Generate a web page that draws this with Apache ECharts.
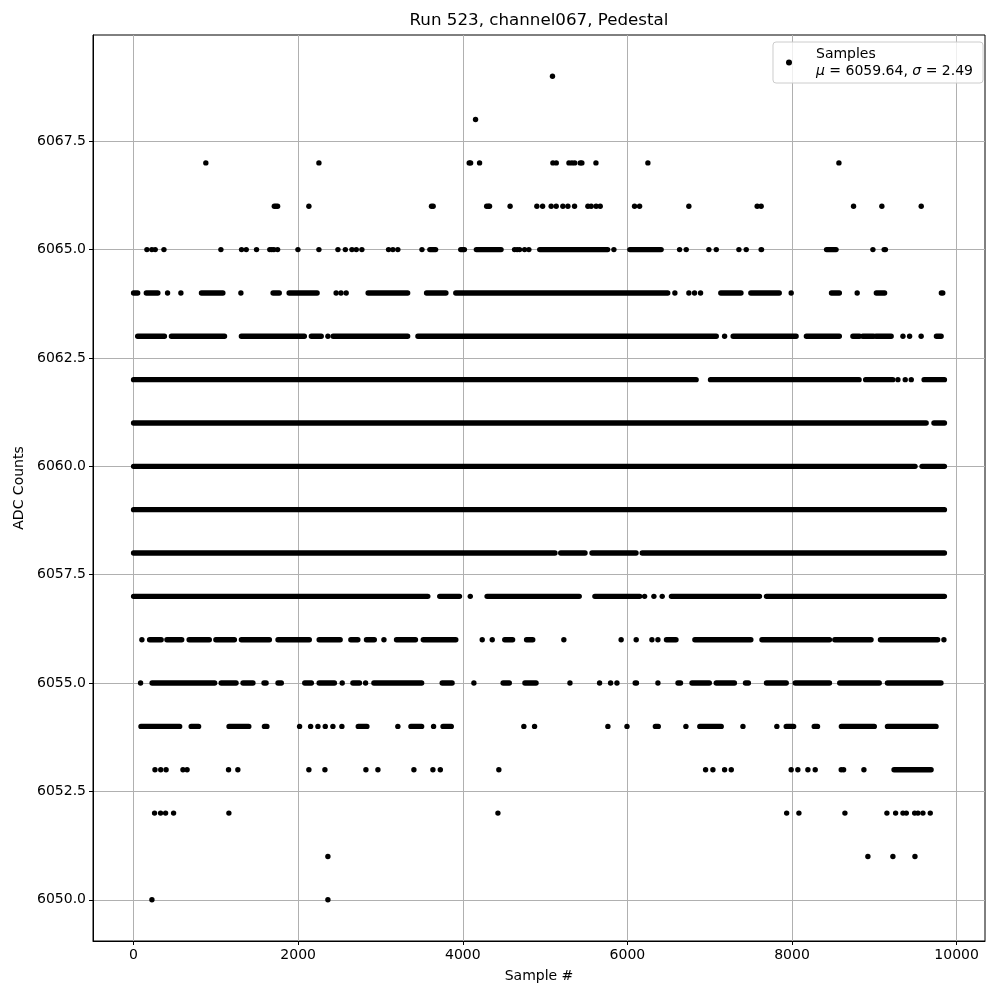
<!DOCTYPE html>
<html>
<head>
<meta charset="utf-8">
<script src="https://cdn.jsdelivr.net/npm/echarts@6/dist/echarts.min.js"></script>
<style>html,body{margin:0;padding:0;background:#fff}#c{width:1000px;height:1000px}</style>
</head>
<body>
<div id="c"></div>
<script>
// ---- data: per ADC level, numbers are single samples, [a,b] are stretches of samples packed so densely the dots merge ----
const row6050 = [223, 2361];
const row6051 = [2361, 8922, 9226, 9494];
const row6052 = [255, 328, 389, 486, 1158, 4427, 7935, 8084, 8643, 9153, 9259, 9348, 9389, 9490, 9530, 9591, 9680];
const row6053 = [260, 330, 395, 600, 650, 1154, 1267, 2130, 2325, 2823, 2969, 3406, 3637, 3727, 4438, 6950, 7039, 7181, 7262, 7990, 8071, 8193, 8282, 8598, 8627, 8874, [9240, 9690]];
const row6054 = [[90, 560], [700, 790], [1160, 1400], [1590, 1620], 2017, 2151, 2240, 2329, 2422, 2531, [2730, 2835], 3211, [3370, 3500], 3645, [3760, 3860], 4742, 4872, 5763, 5995, [6340, 6375], 6711, [6880, 7140], 7404, 7816, [7930, 8020], [8270, 8310], [8600, 9000], [9160, 9750]];
const row6055 = [85, [225, 985], [1065, 1245], [1330, 1450], [1585, 1610], [1755, 1795], [2080, 2160], [2255, 2440], 2535, [2665, 2745], 2819, [2920, 3500], [3750, 3870], 4135, [4490, 4565], [4755, 4890], 5302, 5662, 5796, 5873, [6095, 6110], 6371, [6615, 6645], [6785, 6995], [7080, 7300], [7435, 7470], [7690, 7930], [8040, 8455], [8580, 9060], [9160, 9810]];
const row6056 = [101, [195, 335], [405, 585], [675, 920], [1000, 1225], [1310, 1650], [1755, 2135], [2255, 2510], [2640, 2725], [2830, 2925], 3042, [3195, 3425], [3520, 3915], 4236, 4358, [4510, 4605], [4775, 4850], 5228, 5924, 6107, 6298, 6371, [6475, 6590], [6820, 7500], [7635, 8455], [8520, 8960], [9075, 9770], 9846];
const row6057 = [[0, 3575], [3720, 3960], 4091, [4295, 5415], [5605, 6150], 6209, 6322, 6423, [6535, 7605], [7690, 9852]];
const row6058 = [[0, 5120], [5190, 5485], [5570, 6105], [6180, 9852]];
const row6059 = [[0, 9852]];
const row6060 = [[0, 9495], [9580, 9852]];
const row6061 = [[0, 9630], [9725, 9852]];
const row6062 = [[0, 6835], [7010, 8815], [8895, 9225], 9287, 9376, 9449, [9605, 9852]];
const row6063 = [[50, 375], [460, 1105], [1310, 2075], [2160, 2280], 2361, [2425, 3330], [3455, 7080], 7181, [7285, 8050], [8175, 8575], [8740, 8820], [8860, 8990], [9020, 9205], 9348, 9429, 9569, [9755, 9812]];
const row6064 = [[0, 50], [155, 295], 413, 575, [825, 1085], 1304, [1695, 1770], [1890, 2230], 2461, 2520, 2583, [2850, 3330], [3560, 3795], [3915, 6490], 6577, 6747, 6816, 6889, [7135, 7380], [7500, 7845], 7990, [8480, 8575], 8792, [9025, 9125], [9815, 9832]];
const row6065 = [162, 222, 263, 369, 1061, 1312, 1369, 1494, 1655, 1680, 1705, 1750, 1997, 2252, 2483, 2573, 2653, 2706, 2774, 3098, 3151, 3211, 3504, [3600, 3670], [3975, 4020], [4165, 4465], 4629, 4660, 4690, 4751, 4803, [4935, 5760], 5836, [6030, 6410], 6634, 6715, 6990, 7080, 7355, 7444, [7625, 7630], [8420, 8535], 8983, [9120, 9135]];
const row6066 = [1710, 1730, 1750, 2130, 3620, 3640, 4290, 4310, 4325, 4575, 4900, 4970, 5074, 5135, 5216, 5277, 5358, 5520, 5560, 5620, 5670, 6087, 6148, 6747, 7577, 7625, 8748, 9092, 9570];
const row6067 = [878, 2252, 4078, 4095, 4204, 5095, 5136, 5290, 5326, 5360, 5427, 5447, 5618, 6249, 8570];
const row6068 = [4155];
const row6069 = [5090];

const levels = [6050, 6051, 6052, 6053, 6054, 6055, 6056, 6057, 6058, 6059, 6060, 6061, 6062, 6063, 6064, 6065, 6066, 6067, 6068, 6069];
const rows = [row6050, row6051, row6052, row6053, row6054, row6055, row6056, row6057, row6058, row6059, row6060, row6061, row6062, row6063, row6064, row6065, row6066, row6067, row6068, row6069];

const xTicks = [0, 2000, 4000, 6000, 8000, 10000];
const yTicks = [6050, 6052.5, 6055, 6057.5, 6060, 6062.5, 6065, 6067.5];

const titleText = 'Run 523, channel067, Pedestal';
const seriesName = 'Samples';
const meanText = '6059.64';
const sigmaText = '2.49';

// ---- build series data ----
const points = [];
const runs = [];
levels.forEach((lv, i) => {
  rows[i].forEach(item => {
    if (Array.isArray(item)) runs.push([item[0], item[1], lv]);
    else points.push([item, lv]);
  });
});

const FONT = 'DejaVu Sans';
const DOT = 5.4;

const chart = echarts.init(document.getElementById('c'), null, {renderer: 'canvas'});
chart.setOption({
  animation: false,
  backgroundColor: '#fff',
  grid: {left: 93, right: 15, top: 35, bottom: 59, show: true, borderColor: '#000', borderWidth: 1, backgroundColor: 'transparent'},
  graphic: [{
    type: 'text', x: 539, y: 21,
    style: {text: titleText, font: '16.7px "DejaVu Sans"', fill: '#000', textAlign: 'center', textVerticalAlign: 'middle'}
  }],
  legend: {
    data: [seriesName],
    right: 17, top: 42,
    orient: 'vertical',
    padding: [5, 10, 5, 13],
    backgroundColor: 'rgba(255,255,255,0.8)',
    borderColor: '#cccccc', borderWidth: 1, borderRadius: 3,
    icon: 'circle', itemWidth: 24, itemHeight: 6,
    itemStyle: {color: '#000'},
    formatter: () => '{n|' + seriesName + '}\n{m|μ}{p| = ' + meanText + ', }{i|σ}{p| = ' + sigmaText + '}',
    textStyle: {
      color: '#000', fontFamily: FONT, fontSize: 14,
      rich: {
        n: {fontFamily: FONT, fontSize: 14, color: '#000', lineHeight: 17, padding: [0, 0, 0, 10]},
        m: {fontFamily: FONT, fontSize: 14, color: '#000', fontStyle: 'italic', lineHeight: 17, padding: [0, 0, 0, 10]},
        i: {fontFamily: FONT, fontSize: 14, color: '#000', fontStyle: 'italic', lineHeight: 17},
        p: {fontFamily: FONT, fontSize: 14, color: '#000', lineHeight: 17}
      }
    }
  },
  xAxis: {
    type: 'value', min: -493, max: 10345,
    name: 'Sample #', nameLocation: 'middle', nameGap: 28,
    nameTextStyle: {fontFamily: FONT, fontSize: 14, color: '#000'},
    axisLine: {show: true, onZero: false, lineStyle: {color: '#000', width: 1}},
    axisTick: {show: true, length: 4, customValues: xTicks, lineStyle: {color: '#000', width: 1}},
    axisLabel: {customValues: xTicks, margin: 7, fontFamily: FONT, fontSize: 14, color: '#000', formatter: v => String(v)},
    splitLine: {show: true, lineStyle: {color: '#b0b0b0', width: 1}}
  },
  yAxis: {
    type: 'value', min: 6049.05, max: 6069.95,
    name: 'ADC Counts', nameLocation: 'middle', nameGap: 64,
    nameTextStyle: {fontFamily: FONT, fontSize: 14, color: '#000'},
    axisLine: {show: true, onZero: false, lineStyle: {color: '#000', width: 1}},
    axisTick: {show: true, length: 4, customValues: yTicks, lineStyle: {color: '#000', width: 1}},
    axisLabel: {customValues: yTicks, margin: 7, fontFamily: FONT, fontSize: 14, color: '#000', formatter: v => v.toFixed(1)},
    splitLine: {show: true, lineStyle: {color: '#b0b0b0', width: 1}}
  },
  series: [
    {
      name: seriesName, type: 'scatter', data: points,
      symbol: 'circle', symbolSize: DOT,
      itemStyle: {color: '#000', opacity: 1},
      z: 3
    },
    {
      name: 'runs', type: 'custom', data: runs,
      encode: {x: [0, 1], y: 2},
      z: 3,
      renderItem: (params, api) => {
        const y = api.value(2);
        const a = api.coord([api.value(0), y]);
        const b = api.coord([api.value(1), y]);
        const r = DOT / 2;
        return {
          type: 'rect',
          shape: {x: a[0] - r, y: a[1] - r, width: (b[0] - a[0]) + 2 * r, height: 2 * r, r: r},
          style: {fill: '#000'}
        };
      }
    }
  ]
});
</script>
</body>
</html>
